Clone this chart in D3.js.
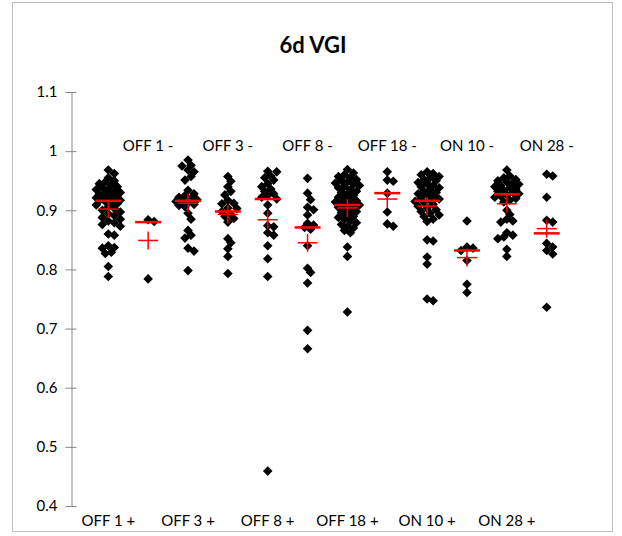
<!DOCTYPE html>
<html><head><meta charset="utf-8">
<script src="https://cdn.jsdelivr.net/npm/d3@7"></script>
<style>body{margin:0;background:#fff} svg{display:block} text{font-family:Lato,'Noto Sans',sans-serif;fill:#000}</style>
</head><body><svg id="c" width="622" height="536"></svg>
<script>
const categories = ["OFF 1 +","OFF 1 -","OFF 3 +","OFF 3 -","OFF 8 +","OFF 8 -","OFF 18 +","OFF 18 -","ON 10 +","ON 10 -","ON 28 +","ON 28 -"];
const yTicks = [0.4,0.5,0.6,0.7,0.8,0.9,1.0,1.1];

const off1Plus = [0.968,0.962,0.955,0.950,0.948,0.945,0.943,0.940,0.938,0.936,0.935,0.932,0.930,0.929,0.927,0.925,0.924,0.922,0.921,0.920,0.918,0.917,0.916,0.915,0.913,0.911,0.909,0.906,0.903,0.900,0.897,0.894,0.891,0.888,0.885,0.882,0.879,0.876,0.873,0.860,0.858,0.840,0.837,0.836,0.829,0.827,0.805,0.788];
const off1Minus = [0.884,0.881,0.784];
const off3Plus = [0.985,0.976,0.975,0.968,0.965,0.957,0.951,0.934,0.928,0.925,0.922,0.920,0.918,0.916,0.915,0.913,0.910,0.908,0.906,0.895,0.885,0.866,0.858,0.853,0.836,0.831,0.798];
const off3Minus = [0.957,0.949,0.940,0.932,0.926,0.917,0.912,0.911,0.904,0.903,0.898,0.893,0.890,0.886,0.880,0.852,0.845,0.835,0.822,0.793];
const off8Plus = [0.966,0.965,0.958,0.955,0.951,0.945,0.940,0.936,0.932,0.928,0.925,0.922,0.919,0.909,0.895,0.874,0.872,0.862,0.858,0.840,0.818,0.788,0.459];
const off8Minus = [0.954,0.929,0.918,0.905,0.901,0.892,0.878,0.875,0.871,0.868,0.840,0.802,0.795,0.777,0.697,0.666];
const off18Plus = [0.969,0.963,0.960,0.957,0.955,0.952,0.950,0.948,0.946,0.944,0.942,0.940,0.938,0.935,0.932,0.930,0.928,0.925,0.922,0.920,0.918,0.916,0.914,0.912,0.910,0.909,0.907,0.905,0.903,0.900,0.898,0.896,0.893,0.890,0.888,0.885,0.882,0.879,0.876,0.873,0.870,0.866,0.862,0.838,0.822,0.728];
const off18Minus = [0.965,0.951,0.949,0.929,0.897,0.877,0.873];
const on10Plus = [0.965,0.962,0.960,0.957,0.955,0.952,0.950,0.947,0.945,0.942,0.940,0.938,0.935,0.932,0.930,0.928,0.926,0.924,0.921,0.919,0.917,0.915,0.913,0.910,0.907,0.904,0.901,0.898,0.895,0.892,0.889,0.885,0.881,0.850,0.848,0.821,0.809,0.750,0.747];
const on10Minus = [0.882,0.838,0.836,0.832,0.815,0.775,0.761];
const on28Plus = [0.968,0.958,0.955,0.952,0.950,0.948,0.946,0.944,0.942,0.940,0.938,0.936,0.934,0.932,0.930,0.928,0.926,0.924,0.922,0.920,0.917,0.914,0.900,0.893,0.885,0.882,0.880,0.862,0.858,0.855,0.852,0.834,0.822];
const on28Minus = [0.961,0.958,0.922,0.883,0.880,0.844,0.838,0.832,0.826,0.736];

const medians = [0.916,0.880,0.916,0.898,0.919,0.871,0.909,0.929,0.916,0.832,0.927,0.861];
const means   = [0.902,0.849,0.912,0.893,0.884,0.845,0.904,0.919,0.907,0.820,0.911,0.869];

const seriesValues = [off1Plus,off1Minus,off3Plus,off3Minus,off8Plus,off8Minus,off18Plus,off18Minus,on10Plus,on10Minus,on28Plus,on28Minus];

const svg = d3.select("#c");
const x = d3.scalePoint().domain(categories).range([108.3,546.7]);
const y = d3.scaleLinear().domain([0.4,1.1]).range([506,92]);

// chart border
svg.append("rect").attr("x",12.5).attr("y",2.5).attr("width",600).attr("height",529)
  .attr("fill","#fff").attr("stroke","#bfbfbf").attr("stroke-width",1);

// title
svg.append("text").attr("x",313).attr("y",53).attr("text-anchor","middle")
  .style("font-size","22px").style("font-weight","bold").text("6d VGI");

// y axis
const ax = svg.append("g").attr("transform","translate(71.5,0)")
  .call(d3.axisLeft(y).tickValues(yTicks).tickSizeInner(6).tickSizeOuter(0).tickPadding(8)
    .tickFormat(d => String(+d.toFixed(1))));
ax.select(".domain").attr("stroke","#868686");
ax.selectAll(".tick line").attr("stroke","#868686").attr("x1",-6).attr("x2",5);
ax.selectAll(".tick text").style("font-size","15px").attr("fill","#000").style("font-family","Lato,'Noto Sans',sans-serif");

// category labels
svg.append("g").selectAll("text").data(categories).join("text")
  .attr("x", d => x(d))
  .attr("y", d => d.endsWith("+") ? 526 : 151)
  .attr("text-anchor","middle")
  .style("font-size","15px")
  .text(d => d);

// beeswarm layout
function swarm(vals, cx){
  const sorted = vals.slice().sort((a,b)=>b-a);
  const placed = [];
  const step = 3, minD = 6.8, maxOff = 12;
  sorted.forEach(v => {
    const py = y(v);
    let best = 0, bestD = -1, chosen = null;
    for (let k=0;k<30;k++){
      const cand = k===0 ? 0 : (k%2 ? 1 : -1)*Math.ceil(k/2)*step;
      if (Math.abs(cand) > maxOff) break;
      let md = Infinity;
      placed.forEach(p => { md = Math.min(md, Math.abs(p.x-(cx+cand)) + Math.abs(p.y-py)); });
      if (md >= minD){ chosen = cand; break; }
      if (md > bestD){ bestD = md; best = cand; }
    }
    const off = chosen === null ? best : chosen;
    placed.push({x:cx+off, y:py, v});
  });
  return placed;
}

const r = 4.8;
const diamond = `M0,${-r}L${r},0L0,${r}L${-r},0Z`;
const gPts = svg.append("g");
categories.forEach((c,i) => {
  const pts = swarm(seriesValues[i], x(c));
  gPts.append("g").selectAll("path").data(pts).join("path")
    .attr("d", diamond)
    .attr("transform", p => `translate(${p.x},${p.y})`)
    .attr("fill","#000");
});

// median lines
svg.append("g").selectAll("line").data(categories).join("line")
  .attr("x1", d => x(d)-13).attr("x2", d => x(d)+13)
  .attr("y1", (d,i) => y(medians[i])).attr("y2", (d,i) => y(medians[i]))
  .attr("stroke","#ff0000").attr("stroke-width",2.5);

// mean crosses
const gm = svg.append("g");
categories.forEach((c,i) => {
  const cx = x(c), cy = y(means[i]);
  gm.append("line").attr("x1",cx-10).attr("x2",cx+10).attr("y1",cy).attr("y2",cy)
    .attr("stroke","#ff0000").attr("stroke-width",1.5);
  gm.append("line").attr("x1",cx).attr("x2",cx).attr("y1",cy-9).attr("y2",cy+9)
    .attr("stroke","#ff0000").attr("stroke-width",1.5);
});
</script></body></html>
